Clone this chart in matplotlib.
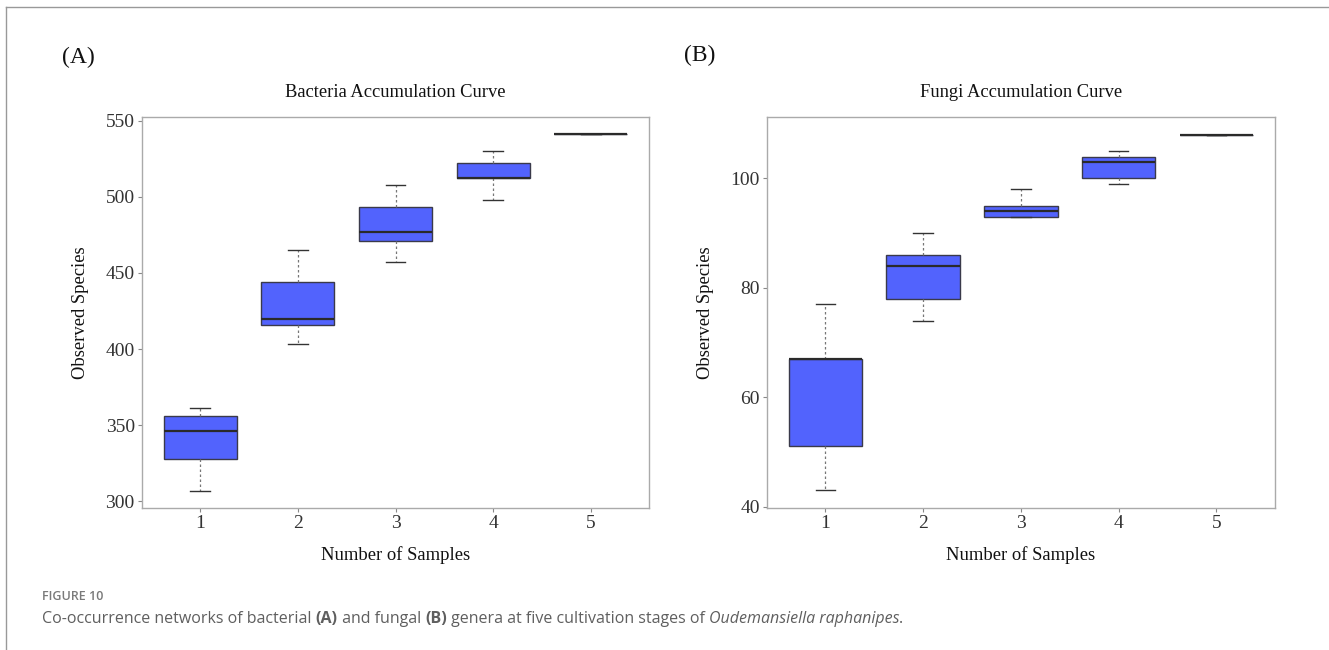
import matplotlib
matplotlib.use("Agg")
import matplotlib.pyplot as plt
from matplotlib.lines import Line2D

# sample counts on the x axis
samples = [1, 2, 3, 4, 5]

# bacteria box stats
bac_low = [307, 403, 457, 498, 541]
bac_q1 = [328, 416, 471, 512, 541]
bac_med = [346, 420, 477, 512, 541]
bac_q3 = [356, 444, 493, 522, 541]
bac_high = [361, 465, 508, 530, 541]
bac_ticks = [300, 350, 400, 450, 500, 550]

# fungi box stats
fun_low = [43, 74, 93, 99, 108]
fun_q1 = [51, 78, 93, 100, 108]
fun_med = [67, 84, 94, 103, 108]
fun_q3 = [67, 86, 95, 104, 108]
fun_high = [77, 90, 98, 105, 108]
fun_ticks = [40, 60, 80, 100]

box_color = '#5263fd'
serif = 'Liberation Serif'


def stats(low, q1, med, q3, high):
    return [dict(whislo=a, q1=b, med=c, q3=d, whishi=e, fliers=[])
            for a, b, c, d, e in zip(low, q1, med, q3, high)]


def panel(ax, st, ticks, ylim, title):
    ax.bxp(st, positions=samples, widths=0.75, patch_artist=True,
           boxprops=dict(facecolor=box_color, edgecolor='#3a3a4a', linewidth=1.0),
           medianprops=dict(color='#2a2a2a', linewidth=1.6),
           whiskerprops=dict(color='#777777', linestyle=(0, (2, 2)), linewidth=0.9),
           capprops=dict(color='#333333', linewidth=1.0), capwidths=0.2)
    ax.set_xlim(0.4, 5.6)
    ax.set_ylim(*ylim)
    ax.set_xticks(samples)
    ax.set_xticklabels([str(s) for s in samples])
    ax.set_yticks(ticks)
    for sp in ax.spines.values():
        sp.set_color('#aaaaaa')
        sp.set_linewidth(1.0)
    ax.tick_params(length=3, width=0.8, color='#888888', labelcolor='#333333',
                   labelsize=14, pad=2)
    for lab in ax.get_xticklabels() + ax.get_yticklabels():
        lab.set_fontfamily(serif)
    ax.set_title(title, family=serif, fontsize=13.3, color='#111111', pad=14)
    ax.set_xlabel('Number of Samples', family=serif, fontsize=13.4, color='#111111', labelpad=10)
    ax.set_ylabel('Observed Species', family=serif, fontsize=13.4, color='#111111', labelpad=12)


fig = plt.figure(figsize=(13.29, 6.5), dpi=100)

ax1 = fig.add_axes([0.1066, 0.218, 0.382, 0.6025])
ax2 = fig.add_axes([0.5769, 0.218, 0.3825, 0.6025])

panel(ax1, stats(bac_low, bac_q1, bac_med, bac_q3, bac_high), bac_ticks,
      (295.4, 552.6), 'Bacteria Accumulation Curve')
panel(ax2, stats(fun_low, fun_q1, fun_med, fun_q3, fun_high), fun_ticks,
      (39.7, 111.3), 'Fungi Accumulation Curve')

fig.text(0.047, 0.912, '(A)', family=serif, fontsize=17, color='#111111', va='center')
fig.text(0.515, 0.914, '(B)', family=serif, fontsize=17, color='#111111', va='center')

# page frame lines
fig.add_artist(Line2D([0.0045, 1.0], [0.989, 0.989], color='#999999', lw=1.0))
fig.add_artist(Line2D([0.0045, 0.0045], [0.0, 0.989], color='#999999', lw=1.0))

# caption
fig.text(0.0316, 0.082, 'FIGURE 10', family='Open Sans', fontsize=9, color='#7a7a7a',
         weight='semibold', va='center')

pieces = [('Co-occurrence networks of bacterial ', 'normal', 'normal'),
          ('(A)', 'bold', 'normal'),
          (' and fungal ', 'normal', 'normal'),
          ('(B)', 'bold', 'normal'),
          (' genera at five cultivation stages of ', 'normal', 'normal'),
          ('Oudemansiella raphanipes', 'normal', 'italic'),
          ('.', 'normal', 'normal')]
renderer = fig.canvas.get_renderer()
x = 0.0316
for txt, w, st in pieces:
    t = fig.text(x, 0.048, txt, family='Open Sans', fontsize=11.5, color='#5f5f5f',
                 weight=w, style=st, va='center')
    bb = t.get_window_extent(renderer)
    x += bb.width / fig.bbox.width

fig.savefig('out.png', dpi=100)
